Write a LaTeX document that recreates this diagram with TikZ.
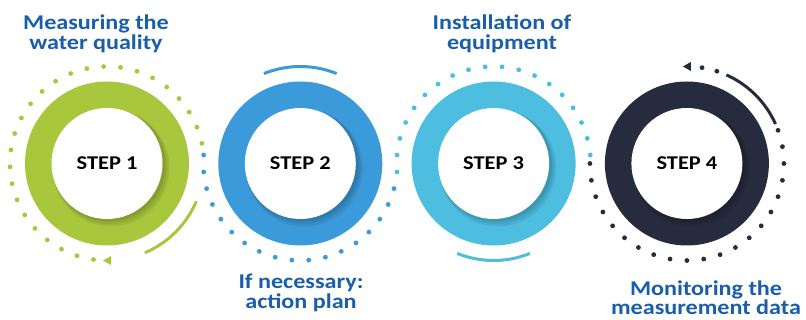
\documentclass[tikz,border=0pt]{standalone}
\usepackage{fontspec}
\setmainfont{Carlito}
\newfontfamily\widefont[FakeStretch=1.15]{Carlito}
\usetikzlibrary{calc,positioning}
\definecolor{stepgreen}{HTML}{A9C73C}
\definecolor{stepblue}{HTML}{3B9AD9}
\definecolor{stepcyan}{HTML}{4DBDE0}
\definecolor{stepnavy}{HTML}{262B3D}
\definecolor{titleblue}{HTML}{1B5EA8}
\tikzset{every picture/.style={/utils/exec={\bfseries}}}
\tikzset{disc/.style={fill=white,circle,inner sep=0pt,minimum size=111pt,font=\widefont\bfseries\fontsize{19.5}{20}\selectfont}}
\tikzset{title/.style={titleblue,align=center,font=\widefont\bfseries\fontsize{21}{19.5}\selectfont}}
\tikzset{track/.style={line width=3pt}}

\begin{document}
\begin{tikzpicture}[x=1pt,y=1pt]
    \useasboundingbox (0,0) rectangle (806,320);
    % rings with their discs
    \foreach \i/\col in {1/stepgreen,2/stepblue,3/stepcyan,4/stepnavy} {
        \coordinate (c\i) at ({107+193.3*(\i-1)},156.5);
        \fill[\col] (c\i) circle (82);
        \foreach \k in {1,2,3}
            \fill[black,opacity=0.07] ($(c\i)+(1+\k,-1.5*\k)$) circle ({55.5+\k});
        \node [disc] (s\i) at (c\i) {STEP \i};
    }
    % step 1
    \foreach \a in {12,22,...,262}
        \fill[stepgreen] (c1) ++(\a:97) circle (2.4);
    \draw[stepgreen,track] (c1) ++(-67:97) arc (-67:-23:97);
    \fill[stepgreen] (c1) ++(270:97) ++(-4,0) -- ++(8,4.5) -- ++(0,-9) -- cycle;
    % step 2
    \foreach \a in {175,185,...,345}
        \fill[stepblue] (c2) ++(\a:97) circle (2.4);
    \draw[stepblue,track] (c2) ++(68:97) arc (68:112:97);
    % step 3
    \foreach \a in {5,15,...,185}
        \fill[stepcyan] (c3) ++(\a:97) circle (2.4);
    \draw[stepcyan,track] (c3) ++(248:97) arc (248:292:97);
    % step 4
    \foreach \a in {180,190,...,380,72,81}
        \fill[stepnavy] (c4) ++(\a:97) circle (2.4);
    \draw[stepnavy,track] (c4) ++(24:97) arc (24:66:97);
    \fill[stepnavy] (c4) ++(90:97) ++(-4,0) -- ++(8,4.5) -- ++(0,-9) -- cycle;
    % titles
    \node [title] (t1) at (96,286) {Measuring the\\water quality};
    \node [title] (t2) at (301,27) {If necessary:\\action plan};
    \node [title] (t3) at (502,286) {Installation of\\equipment};
    \node [title] (t4) at (706,22.5) {Monitoring the\\measurement data};
\end{tikzpicture}
\end{document}
